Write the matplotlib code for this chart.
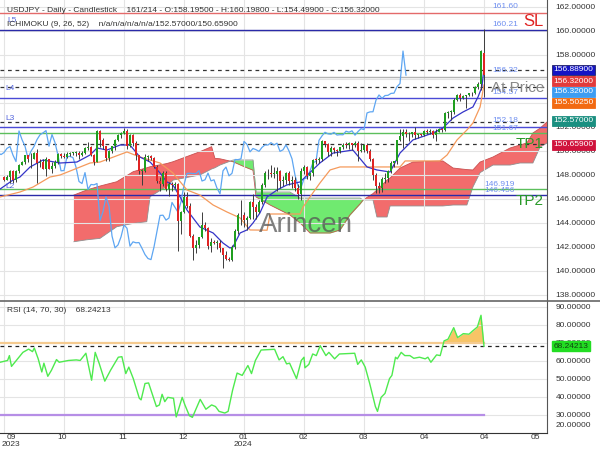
import matplotlib.pyplot as plt
import numpy as np
from matplotlib.lines import Line2D
from matplotlib.transforms import ScaledTranslation

plt.rcParams['font.family'] = ['Liberation Sans', 'DejaVu Sans']

# USDJPY daily bars, 18 Sep 2023 .. 29 Apr 2024 (bar index 0..160)
opens = [147.85, 147.62, 147.86, 148.35, 147.59, 148.37, 148.87, 149.06, 149.63, 149.32,
         149.37, 149.86, 149.03, 149.09, 148.50, 149.31, 148.54, 148.74, 149.12, 149.79,
         149.57, 149.52, 149.79, 149.84, 149.84, 149.86, 149.70, 149.87, 150.22, 150.37,
         149.65, 149.12, 151.67, 150.95, 150.40, 149.39, 149.98, 150.38, 150.95, 151.35,
         151.51, 151.70, 150.40, 151.37, 150.70, 149.64, 148.35, 148.37, 149.53, 149.55,
         149.45, 148.66, 147.46, 147.29, 148.20, 146.80, 147.21, 147.18, 147.29, 144.20,
         144.95, 146.17, 145.41, 142.92, 141.93, 142.17, 142.84, 143.85, 143.56, 142.07,
         142.43, 142.35, 142.37, 141.89, 141.37, 141.04, 140.95, 142.00, 143.30, 144.63,
         144.65, 144.24, 144.42, 145.71, 145.30, 144.90, 145.77, 147.17, 148.13, 148.15,
         148.12, 148.12, 148.36, 147.50, 147.60, 148.16, 147.51, 147.60, 146.90, 146.43,
         148.35, 148.66, 147.93, 148.14, 149.29, 149.28, 149.35, 150.80, 150.55, 149.93,
         150.21, 150.11, 149.97, 150.30, 150.51, 150.50, 150.69, 150.50, 150.65, 149.97,
         150.10, 150.51, 150.00, 149.35, 147.99, 147.08, 146.94, 147.68, 147.76, 148.34,
         149.03, 149.13, 150.89, 151.26, 151.56, 151.43, 151.40, 151.55, 151.33, 151.36,
         151.35, 151.65, 151.57, 151.68, 151.32, 151.62, 151.86, 151.78, 153.17, 153.26,
         153.27, 154.24, 154.67, 154.39, 154.62, 154.64, 154.80, 154.82, 155.36, 155.62,
         158.19]
highs = [147.95, 148.00, 148.45, 148.45, 148.45, 148.95, 149.20, 149.70, 149.70, 149.80,
         149.90, 150.16, 149.30, 149.35, 149.50, 149.35, 149.05, 149.25, 149.85, 149.85,
         149.80, 149.90, 149.95, 149.95, 150.00, 150.00, 150.00, 150.30, 150.75, 150.40,
         149.75, 151.72, 151.72, 151.10, 150.45, 150.05, 150.45, 151.00, 151.45, 151.60,
         151.92, 151.85, 151.45, 151.45, 150.80, 149.70, 148.50, 149.75, 149.70, 149.70,
         149.50, 148.80, 147.80, 148.35, 148.30, 147.45, 147.45, 147.40, 147.35, 145.00,
         146.60, 146.60, 145.70, 143.10, 142.55, 142.85, 144.95, 144.05, 143.70, 142.75,
         142.55, 142.60, 142.60, 141.95, 141.70, 141.20, 142.20, 143.50, 144.85, 145.95,
         144.90, 144.55, 145.80, 146.40, 145.55, 145.90, 147.30, 148.30, 148.50, 148.80,
         148.70, 148.70, 148.40, 147.90, 148.25, 148.30, 147.90, 147.85, 147.25, 148.55,
         148.80, 148.75, 148.20, 149.35, 149.45, 149.50, 150.88, 150.85, 150.65, 150.45,
         150.30, 150.20, 150.35, 150.70, 150.75, 150.75, 150.70, 150.85, 150.80, 150.65,
         150.60, 150.65, 150.15, 149.40, 148.20, 147.40, 147.85, 148.15, 148.40, 149.15,
         149.20, 150.95, 151.80, 151.85, 151.85, 151.55, 151.60, 151.97, 151.45, 151.45,
         151.75, 151.80, 151.80, 151.75, 151.85, 151.95, 151.95, 153.25, 153.35, 153.40,
         154.45, 154.75, 154.80, 154.70, 154.70, 154.85, 154.90, 155.40, 155.75, 158.45,
         160.20]
lows = [147.50, 147.55, 147.35, 147.35, 147.45, 148.15, 148.80, 148.95, 149.10, 148.55,
        149.30, 147.30, 148.70, 148.50, 147.95, 148.50, 148.20, 148.60, 148.90, 149.40,
        149.40, 149.40, 149.55, 149.65, 149.60, 149.30, 149.55, 149.75, 150.10, 149.55,
        148.80, 149.05, 150.35, 150.15, 149.20, 149.20, 149.85, 150.05, 150.80, 151.05,
        151.45, 150.15, 150.30, 150.45, 149.25, 148.10, 147.15, 148.25, 149.20, 149.25,
        148.55, 147.35, 146.65, 147.05, 146.65, 146.25, 146.70, 146.95, 141.70, 143.10,
        144.85, 145.25, 142.85, 140.95, 141.50, 141.95, 142.75, 143.35, 141.85, 141.55,
        142.25, 141.85, 141.55, 140.25, 140.90, 140.80, 140.80, 141.85, 143.10, 143.80,
        143.65, 143.40, 144.30, 144.35, 144.35, 144.80, 145.60, 147.00, 147.65, 147.85,
        147.75, 146.65, 146.95, 147.10, 147.25, 147.20, 146.95, 146.70, 146.00, 145.90,
        148.10, 147.65, 147.60, 147.95, 148.90, 149.00, 149.15, 150.35, 149.60, 149.60,
        149.80, 149.55, 149.80, 150.15, 150.25, 150.15, 150.05, 150.30, 149.20, 149.90,
        149.90, 149.80, 149.20, 147.60, 146.50, 146.50, 146.60, 147.35, 147.40, 148.15,
        148.70, 148.95, 150.80, 150.25, 151.20, 150.85, 151.15, 151.00, 151.10, 151.25,
        151.25, 151.45, 151.45, 151.05, 150.80, 151.55, 151.60, 151.70, 152.75, 152.60,
        153.10, 154.15, 154.20, 154.30, 153.60, 154.60, 154.55, 154.75, 155.20, 155.05,
        154.50]
closes = [147.62, 147.86, 148.35, 147.59, 148.37, 148.87, 149.06, 149.63, 149.32, 149.37,
          149.86, 149.03, 149.09, 148.50, 149.31, 148.54, 148.74, 149.12, 149.79, 149.57,
          149.52, 149.79, 149.84, 149.84, 149.86, 149.70, 149.87, 150.22, 150.37, 149.65,
          149.12, 151.67, 150.95, 150.40, 149.39, 149.98, 150.38, 150.95, 151.35, 151.51,
          151.70, 150.40, 151.37, 150.70, 149.64, 148.35, 148.37, 149.53, 149.55, 149.45,
          148.66, 147.46, 147.29, 148.20, 146.80, 147.21, 147.18, 147.29, 144.20, 144.95,
          146.17, 145.41, 142.92, 141.93, 142.17, 142.84, 143.85, 143.56, 142.07, 142.43,
          142.35, 142.37, 141.89, 141.37, 141.04, 140.95, 142.00, 143.30, 144.63, 144.65,
          144.24, 144.42, 145.71, 145.30, 144.90, 145.77, 147.17, 148.13, 148.15, 148.12,
          148.12, 148.36, 147.50, 147.60, 148.16, 147.51, 147.60, 146.90, 146.43, 148.35,
          148.66, 147.93, 148.14, 149.29, 149.28, 149.35, 150.80, 150.55, 149.93, 150.21,
          150.11, 149.97, 150.30, 150.51, 150.50, 150.69, 150.50, 150.65, 149.97, 150.10,
          150.51, 150.00, 149.35, 147.99, 147.08, 146.94, 147.68, 147.76, 148.34, 149.03,
          149.13, 150.89, 151.26, 151.56, 151.43, 151.40, 151.55, 151.33, 151.36, 151.35,
          151.65, 151.57, 151.68, 151.32, 151.62, 151.86, 151.78, 153.17, 153.26, 153.27,
          154.24, 154.67, 154.39, 154.62, 154.64, 154.80, 154.82, 155.36, 155.62, 158.33,
          156.32]

# Ichimoku lines: (bar, price) vertices
tenkan_x = [-1.3, 3.0, 5.3, 8.7, 13.0, 18.7, 24.3, 28.7, 31.0, 34.3, 38.7, 42.0, 45.3, 48.7,
            52.0, 54.3, 56.3, 58.7, 61.0, 65.3, 69.7, 73.0, 75.3, 76.3, 78.7, 81.0, 83.0,
            85.3, 87.7, 91.0, 94.3, 98.7, 105.3, 109.7, 116.3, 121.0, 124.3, 128.7, 132.0,
            136.3, 143.0, 146.3, 149.7, 153.0, 156.3, 158.0, 159.3, 160.0]
tenkan_y = [146.83, 147.58, 147.83, 148.67, 149.25, 149.0, 149.08, 149.67, 150.25, 150.08,
            150.5, 150.5, 149.5, 149.08, 148.17, 147.42, 147.17, 146.17, 145.08, 143.67,
            143.17, 142.33, 141.92, 142.0, 143.17, 143.42, 144.0, 144.83, 146.17, 146.75,
            147.17, 147.42, 149.0, 149.83, 150.08, 148.67, 148.42, 148.25, 149.83, 150.92,
            151.5, 151.92, 152.75, 153.25, 153.67, 154.5, 155.33, 156.889]
kijun_x = [-1.3, 5.3, 9.7, 15.3, 18.7, 28.7, 32.0, 41.0, 45.3, 52.0, 56.3, 61.0, 65.3, 69.7,
           74.3, 78.7, 82.0, 87.7, 88.7, 98.7, 99.7, 102.0, 105.3, 108.7, 112.0, 132.0,
           133.7, 145.3, 147.7, 151.0, 154.3, 156.3, 158.7, 160.0]
kijun_y = [146.17, 146.58, 147.0, 147.83, 148.0, 149.0, 149.08, 149.92, 149.5, 149.0, 148.17,
           146.75, 146.33, 145.5, 144.92, 144.42, 143.42, 143.4, 144.75, 144.75, 145.33,
           146.17, 147.33, 148.42, 148.67, 148.67, 149.17, 149.17, 149.67, 150.92, 151.75,
           152.33, 153.67, 155.5025]

# leading spans (cloud), shifted 26 bars ahead
cloud_x = [23.3, 27.6, 32.0, 37.6, 43.1, 47.6, 48.7, 54.2, 56.4, 65.3, 69.2, 70.3, 72.0,
           76.4, 80.0, 83.0, 84.0, 88.7, 95.3, 98.7, 102.0, 108.7, 112.0, 115.3, 118.7,
           119.7, 123.0, 124.3, 127.7, 128.7, 132.0, 136.3, 146.3, 149.7, 154.3, 156.3,
           158.7, 163.0, 168.7, 172.0, 174.3, 176.3, 178.7, 181.0, 183.0]
span_a = [146.33, 146.75, 147.08, 147.44, 148.28, 148.60, 148.69, 148.95, 149.11, 149.94,
          150.36, 149.39, 149.35, 149.10, 148.70, 148.40, 146.17, 145.50, 144.67, 144.00,
          143.17, 143.17, 143.42, 144.67, 145.60, 145.92, 146.45, 146.75, 147.58, 147.75,
          148.58, 149.08, 149.17, 148.58, 148.45, 148.42, 149.08, 149.50, 150.25, 150.50,
          150.67, 151.50, 151.90, 152.42, 152.57]
span_b = [142.44, 142.60, 142.72, 143.69, 143.97, 144.11, 146.20, 147.03, 147.58, 148.00,
          148.50, 148.60, 148.83, 149.25, 149.25, 149.25, 146.58, 146.58, 146.58, 146.08,
          146.08, 146.08, 146.08, 146.08, 146.08, 145.92, 145.92, 144.50, 144.50, 145.42,
          145.42, 145.42, 145.42, 145.50, 145.50, 147.00, 148.20, 148.83, 148.83, 149.00,
          149.00, 149.00, 150.33, 150.66, 150.66]

# RSI(14)
rsi_x = [-1.3, 1.2, 1.8, 2.5, 6.3, 8.2, 9.5, 10.1, 11.4, 12.6, 13.3, 14.6, 15.8, 17.5, 18.4,
         21.5, 24.1, 25.4, 27.3, 29.2, 30.4, 31.7, 33.6, 35.5, 38.1, 39.3, 40.6, 41.6, 43.1,
         45.1, 45.7, 47.0, 48.2, 50.8, 51.8, 52.7, 53.6, 54.6, 56.5, 57.4, 59.4, 60.3, 61.8,
         62.8, 65.4, 67.3, 69.2, 70.5, 71.7, 73.6, 74.7, 76.2, 77.7, 79.4, 81.3, 82.5, 83.8,
         85.7, 90.2, 91.7, 93.0, 94.2, 95.2, 97.5, 99.1, 100.0, 100.3, 101.6, 102.9, 104.1,
         105.4, 107.3, 108.3, 110.2, 111.8, 116.9, 117.9, 119.1, 120.4, 121.9, 123.8, 124.5,
         125.7, 127.0, 128.5, 129.3, 130.5, 131.1, 132.4, 133.6, 135.3, 136.6, 138.5, 140.4,
         141.3, 142.3, 144.2, 145.4, 146.7, 148.0, 149.9, 151.2, 153.1, 155.0, 156.2, 157.8,
         159.0, 160.0]
rsi_y = [59.3, 60.3, 63.0, 57.0, 64.8, 66.6, 65.2, 67.2, 61.2, 53.9, 58.8, 51.5, 54.8, 60.8,
         59.3, 60.3, 60.6, 60.3, 64.3, 49.3, 64.8, 58.8, 48.8, 54.8, 62.1, 62.4, 53.0, 56.6,
         50.2, 39.3, 38.4, 47.5, 47.8, 34.7, 35.6, 41.5, 37.4, 39.8, 39.3, 28.9, 39.8, 35.6,
         29.6, 28.7, 38.7, 33.2, 35.6, 34.7, 32.0, 31.1, 32.0, 43.8, 53.3, 52.0, 57.5, 53.0,
         60.3, 66.1, 66.5, 60.6, 62.4, 58.4, 58.8, 50.2, 60.3, 62.1, 56.2, 58.1, 63.9, 63.0,
         68.5, 63.0, 64.8, 61.2, 63.9, 64.3, 58.1, 60.6, 56.6, 47.5, 34.7, 32.0, 39.8, 42.0,
         50.2, 52.0, 62.1, 61.2, 64.8, 63.0, 63.0, 61.5, 62.1, 61.2, 62.1, 59.3, 63.4, 63.0,
         71.2, 72.1, 78.5, 73.0, 75.2, 74.9, 76.7, 78.9, 85.4, 68.24]

# horizontal levels drawn on the price panel
dashed_levels = [156.75, 155.36, 152.44, 150.56]
blue_levels = [154.44, 152.02]
green_levels = [151.53, 146.81]
navy_levels = [160.06, 146.31]
red_level = 161.48
price_line = 156.19

price_ticks = [138, 140, 142, 144, 146, 148, 150, 152, 154, 156, 158, 160, 162]
rsi_ticks = [20, 30, 40, 50, 60, 70, 80, 90]
grid_bars = [0, 20, 40, 60, 80, 100, 120, 140, 160]
date_ticks = [2.3, 19.3, 39.7, 59.7, 79.7, 99.7, 119.7, 140, 160, 177]
date_labels = ['09\n2023', '10', '11', '12', '01\n2024', '02', '03', '04', '04', '05']

# coloured value tags at the right of the price axis
tag_values = ['156.88900', '156.32000', '156.32000', '155.50250', '152.57000', '150.65900']
tag_pos = [156.75, 155.83, 154.92, 154.0, 152.5, 150.5]
tag_colors = ['#1414c4', '#e23b3b', '#3d9df2', '#f26a12', '#1a8f80', '#d0123c']


def fig_text(fig, x, y, s, **kw):
    """Place text at pixel position (x, y) measured from the top-left corner."""
    fig.text(x / 600, 1 - y / 450, s, **kw)


def draw_price(ax):
    idx = np.arange(len(closes))
    o = np.array(opens)
    c = np.array(closes)

    # cloud
    a = np.array(span_a)
    b = np.array(span_b)
    ax.fill_between(cloud_x, a, b, where=a >= b, interpolate=True, color='#f26c6c', lw=0, zorder=1)
    ax.fill_between(cloud_x, a, b, where=a < b, interpolate=True, color='#70ea70', lw=0, zorder=1)
    ax.plot(cloud_x, a, color='#c85050', lw=0.6, zorder=1.5)
    ax.plot(cloud_x, b, color='#909090', lw=0.6, zorder=1.5)

    # level lines
    ax.axhline(red_level, color='#e46a6a', lw=1.0, zorder=2)
    ax.axhline(price_line, color='#b4b4b4', lw=1.0, zorder=2)
    for lv in navy_levels:
        ax.axhline(lv, color='#2a2aa8', lw=1.0, zorder=2)
    for lv in blue_levels:
        ax.axhline(lv, color='#4a4ad6', lw=1.0, zorder=2)
    for lv in green_levels:
        ax.axhline(lv, color='#5cbf5c', lw=1.0, zorder=2)
    for lv in dashed_levels:
        ax.axhline(lv, color='#333333', lw=0.9, ls=(0, (3, 3)), zorder=2)

    # lagging span, tenkan, kijun
    ax.plot(idx - 26, c, color='#5ea6f2', lw=0.9, zorder=3)
    ax.plot(kijun_x, kijun_y, color='#f59a5c', lw=0.9, zorder=3)
    ax.plot(tenkan_x, tenkan_y, color='#3434c8', lw=0.9, zorder=3)

    # candles
    up = c >= o
    ax.vlines(idx, lows, highs, color='#3c3c3c', lw=0.7, zorder=4)
    body = np.maximum(np.abs(c - o), 0.05)
    ax.bar(idx[up], body[up], bottom=np.minimum(o, c)[up], width=0.7, color='#1f9e1f', zorder=5)
    ax.bar(idx[~up], body[~up], bottom=np.minimum(o, c)[~up], width=0.7, color='#e02424', zorder=5)

    ax.set_xlim(-1.333, 181)
    ax.set_ylim(137.5, 162.583)
    ax.set_xticks(grid_bars)
    ax.set_yticks(price_ticks)
    ax.set_yticklabels([f'{v:.5f}' for v in price_ticks])
    ax.yaxis.tick_right()
    ax.tick_params(axis='x', labelbottom=False, length=0)
    ax.tick_params(axis='y', length=0, pad=6, labelsize=6, colors='#333333')
    ax.grid(True, color='#e4e4e4', lw=0.8, zorder=0)
    for side in ['left', 'top', 'bottom']:
        ax.spines[side].set_visible(False)
    ax.spines['right'].set_color('#555555')

    for txt, pos, col in zip(tag_values, tag_pos, tag_colors):
        ax.text(1.012, pos, txt, transform=ax.get_yaxis_transform(), fontsize=6, color='white',
                va='center', ha='left', zorder=10, clip_on=False,
                bbox=dict(boxstyle='square,pad=0.2', fc=col, ec='#222266' if col == '#1414c4' else col, lw=0.6))


def draw_rsi(ax, fig):
    r = np.array(rsi_y)
    ax.fill_between(rsi_x, r, 70, where=r >= 70, interpolate=True, color='#f7c466', lw=0, zorder=1)
    ax.fill_between(rsi_x, r, 30, where=r <= 30, interpolate=True, color='#7c7cdc', lw=0, zorder=1)
    ax.plot([-1.333, 160], [70, 70], color='#f5cb90', lw=1.6, zorder=2)
    ax.plot([-1.333, 160], [30, 30], color='#b68ee6', lw=1.6, zorder=2)
    ax.axhline(rsi_y[-1], color='#222222', lw=0.9, ls=(0, (3, 3)), zorder=3)
    ax.plot(rsi_x, r, color='#4eea4e', lw=1.0, zorder=4)

    ax.set_xlim(-1.333, 181)
    ax.set_ylim(20, 93.33)
    ax.set_yticks(rsi_ticks)
    ax.set_yticklabels([f'{v:.5f}' for v in rsi_ticks])
    ax.yaxis.tick_right()
    ax.set_xticks(date_ticks)
    ax.set_xticklabels(date_labels)
    ax.set_xticks(grid_bars, minor=True)
    ax.tick_params(axis='x', which='both', length=0, pad=1, labelsize=6, colors='#333333')
    ax.tick_params(axis='y', length=0, pad=6, labelsize=6, colors='#333333')
    for t in ax.get_xticklabels():
        t.set_linespacing(0.95)
    # lowest label sits a little higher so it stays inside the panel
    low = ax.get_yticklabels()[0]
    low.set_transform(low.get_transform() + ScaledTranslation(0, 6 / 72, fig.dpi_scale_trans))
    ax.grid(True, axis='y', color='#e4e4e4', lw=0.8, zorder=0)
    ax.grid(True, axis='x', which='minor', color='#e4e4e4', lw=0.8, zorder=0)
    ax.spines['left'].set_visible(False)
    ax.spines['top'].set_visible(False)
    ax.spines['right'].set_color('#555555')
    ax.spines['bottom'].set_color('#333333')

    ax.text(1.012, rsi_y[-1], '68.24213', transform=ax.get_yaxis_transform(), fontsize=6,
            color='#114411', va='center', ha='left', zorder=10, clip_on=False,
            bbox=dict(boxstyle='square,pad=0.2', fc='#22dd22', ec='#22dd22'))


def main():
    fig = plt.figure(figsize=(6, 4.5), dpi=100)
    ax1 = fig.add_axes([0, 149 / 450, 547 / 600, 301 / 450])
    ax2 = fig.add_axes([0, 17 / 450, 547 / 600, 132 / 450])

    draw_price(ax1)
    draw_rsi(ax2, fig)

    # panel separator runs across the whole width
    fig.add_artist(Line2D([0, 1], [1 - 301 / 450] * 2, color='#666666', lw=1.2,
                          transform=fig.transFigure))

    fig_text(fig, 7, 10, 'USDJPY - Daily - Candlestick    161/214 - O:158.19500 - H:160.19800 - '
             'L:154.49900 - C:156.32000', fontsize=6, color='#333333', va='center')
    fig_text(fig, 7, 21, 'L5', fontsize=6, color='#5566dd', va='center')
    fig_text(fig, 7, 25, 'ICHIMOKU (9, 26, 52)    n/a/n/a/n/a/n/a/152.57000/150.65900',
             fontsize=6, color='#333333', va='center')
    fig_text(fig, 5, 89, 'L4', fontsize=6, color='#5566dd', va='center')
    fig_text(fig, 5, 118, 'L3', fontsize=6, color='#5566dd', va='center')
    fig_text(fig, 5, 186, 'L2', fontsize=6, color='#5566dd', va='center')

    level_labels = [('161.60', 492, 7), ('160.21', 492, 24), ('156.32', 492, 71),
                    ('154.57', 492, 92), ('152.18', 492, 120), ('151.67', 492, 128),
                    ('146.919', 484, 185), ('146.456', 484, 190)]
    for txt, x, y in level_labels:
        fig_text(fig, x, y, txt, fontsize=6, color='#6f8ff0', va='center')

    fig_text(fig, 544, 21, 'SL', fontsize=12, color='#e02222', va='center', ha='right')
    fig_text(fig, 544, 88, 'At Price', fontsize=11, color='#888888', va='center', ha='right')
    fig_text(fig, 544, 144, 'TP1', fontsize=11, color='#2a9a2a', va='center', ha='right')
    fig_text(fig, 544, 201, 'TP2', fontsize=11, color='#2a9a2a', va='center', ha='right')
    fig_text(fig, 306, 225, 'Arincen', fontsize=20, color='#555555', alpha=0.75,
             va='center', ha='center')

    fig_text(fig, 7, 311, 'RSI (14, 70, 30)    68.24213', fontsize=6, color='#333333', va='center')

    fig.savefig('out.png', dpi=100)


if __name__ == '__main__':
    main()
